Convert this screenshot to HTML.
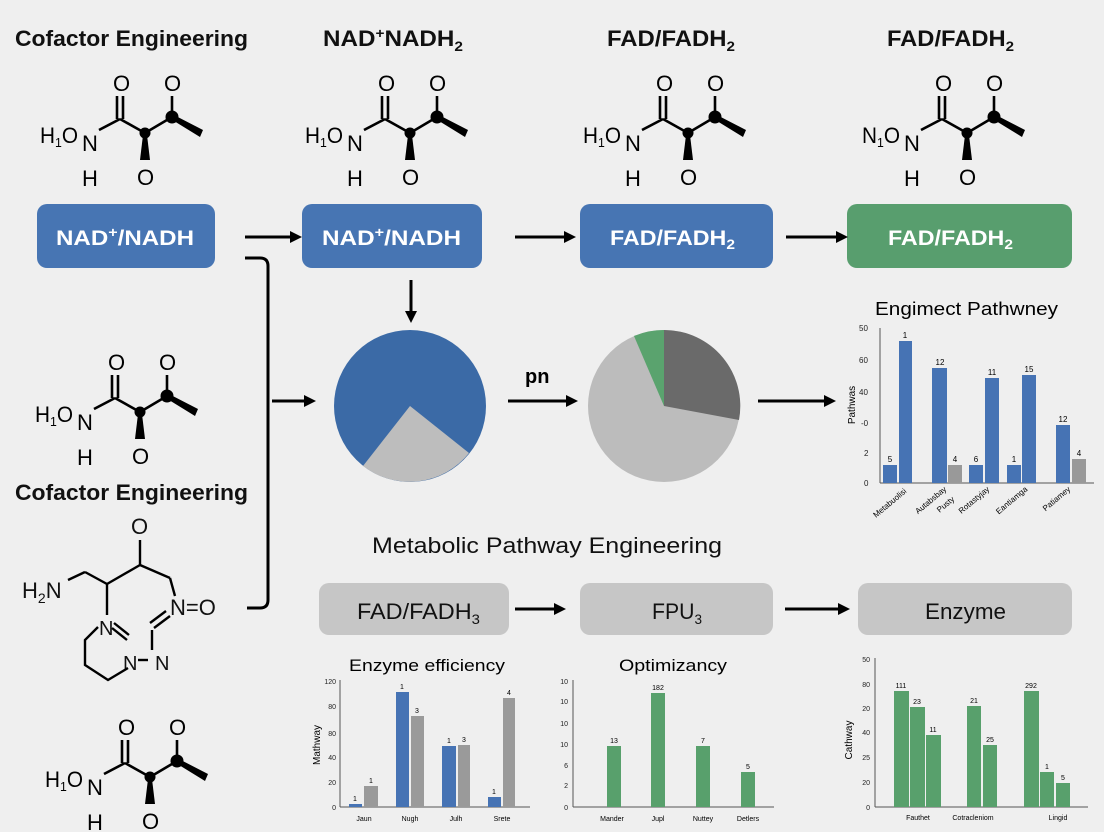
<!DOCTYPE html>
<html><head><meta charset="utf-8"><style>
html,body{margin:0;padding:0;background:#efefef;}
svg{display:block;font-family:"Liberation Sans",sans-serif;}
</style></head><body>
<svg width="1104" height="832" viewBox="0 0 1104 832" xmlns="http://www.w3.org/2000/svg">
<defs>
<marker id="ah" markerWidth="12" markerHeight="12" refX="9" refY="6" orient="auto" markerUnits="userSpaceOnUse"><path d="M0,0 L12,6 L0,12 Z" fill="#000"/></marker>
<g id="mol">
  <text x="40" y="143" font-size="22" textLength="38" lengthAdjust="spacingAndGlyphs">H<tspan font-size="13" dy="4">1</tspan><tspan dy="-4">O</tspan></text>
  <text x="82" y="151" font-size="22">N</text>
  <text x="82" y="186" font-size="22">H</text>
  <text x="113" y="91" font-size="22">O</text>
  <text x="164" y="91" font-size="22">O</text>
  <text x="137" y="185" font-size="22">O</text>
  <g stroke="#000" stroke-width="2.6" fill="none">
    <line x1="99" y1="130" x2="120" y2="119"/>
    <line x1="120" y1="119" x2="145" y2="133"/>
    <line x1="145" y1="133" x2="172" y2="117"/>
    <line x1="117" y1="119" x2="117" y2="96"/>
    <line x1="123" y1="119" x2="123" y2="96"/>
    <line x1="172" y1="117" x2="172" y2="96"/>
  </g>
  <polygon points="170,113 174,121 200,137 203,130" fill="#000"/>
  <polygon points="143,135 147,135 150,160 140,160" fill="#000"/>
  <circle cx="145" cy="133" r="5.5"/>
  <circle cx="172" cy="117" r="6.5"/>
</g>
</defs>
<rect width="1104" height="832" fill="#efefef"/>

<g font-weight="bold" font-size="22" fill="#111">
<text x="15" y="46" textLength="233" lengthAdjust="spacingAndGlyphs">Cofactor Engineering</text>
<text x="323" y="46" textLength="140" lengthAdjust="spacingAndGlyphs">NAD<tspan font-size="14" dy="-8">+</tspan><tspan dy="8">NADH</tspan><tspan font-size="14" dy="5">2</tspan></text>
<text x="607" y="46" textLength="128" lengthAdjust="spacingAndGlyphs">FAD/FADH<tspan font-size="14" dy="5">2</tspan></text>
<text x="887" y="46" textLength="127" lengthAdjust="spacingAndGlyphs">FAD/FADH<tspan font-size="14" dy="5">2</tspan></text>
<text x="15" y="500" textLength="233" lengthAdjust="spacingAndGlyphs">Cofactor Engineering</text>
</g>
<text x="372" y="553" font-size="22" fill="#111" textLength="350" lengthAdjust="spacingAndGlyphs">Metabolic Pathway Engineering</text>

<use href="#mol"/>
<use href="#mol" x="265"/>
<use href="#mol" x="543"/>
<g transform="translate(822,0)">
  <text x="40" y="143" font-size="22" textLength="38" lengthAdjust="spacingAndGlyphs">N<tspan font-size="13" dy="4">1</tspan><tspan dy="-4">O</tspan></text>
  <text x="82" y="151" font-size="22">N</text>
  <text x="82" y="186" font-size="22">H</text>
  <text x="113" y="91" font-size="22">O</text>
  <text x="164" y="91" font-size="22">O</text>
  <text x="137" y="185" font-size="22">O</text>
  <g stroke="#000" stroke-width="2.6" fill="none">
    <line x1="99" y1="130" x2="120" y2="119"/><line x1="120" y1="119" x2="145" y2="133"/>
    <line x1="145" y1="133" x2="172" y2="117"/><line x1="117" y1="119" x2="117" y2="96"/>
    <line x1="123" y1="119" x2="123" y2="96"/><line x1="172" y1="117" x2="172" y2="96"/>
  </g>
  <polygon points="170,113 174,121 200,137 203,130"/><polygon points="143,135 147,135 150,160 140,160"/>
  <circle cx="145" cy="133" r="5.5"/><circle cx="172" cy="117" r="6.5"/>
</g>
<use href="#mol" x="-5" y="279"/>
<use href="#mol" x="5" y="644"/>

<g font-size="22" fill="#111">
<text x="22" y="598">H<tspan font-size="14" dy="5">2</tspan><tspan dy="-5">N</tspan></text>
<text x="131" y="534">O</text>
<text x="170" y="615">N=O</text>
<text x="99" y="635" font-size="20">N</text>
<text x="123" y="670" font-size="20">N</text>
<text x="155" y="670" font-size="20">N</text>
</g>
<g stroke="#000" stroke-width="2.4" fill="none">
<line x1="68" y1="580" x2="85" y2="572"/><line x1="85" y1="572" x2="107" y2="584"/>
<line x1="107" y1="584" x2="140" y2="565"/><line x1="140" y1="565" x2="140" y2="540"/>
<line x1="140" y1="565" x2="170" y2="578"/><line x1="170" y1="578" x2="175" y2="596"/>
<line x1="107" y1="584" x2="107" y2="615"/>
<polyline points="98,627 85,640 85,665 108,680 128,668"/>
<line x1="112" y1="628" x2="127" y2="640"/><line x1="114" y1="623" x2="129" y2="635"/>
<line x1="170" y1="616" x2="154" y2="628"/><line x1="166" y1="611" x2="150" y2="623"/>
<line x1="152" y1="630" x2="152" y2="650"/>
<line x1="138" y1="660" x2="148" y2="660"/>
</g>

<rect x="37" y="204" width="178" height="64" rx="10" fill="#4775b3"/>
<rect x="302" y="204" width="180" height="64" rx="10" fill="#4775b3"/>
<rect x="580" y="204" width="193" height="64" rx="10" fill="#4775b3"/>
<rect x="847" y="204" width="225" height="64" rx="10" fill="#589e6e"/>
<g fill="#fff" font-weight="bold" font-size="21">
<text x="56" y="245" textLength="138" lengthAdjust="spacingAndGlyphs">NAD<tspan font-size="14" dy="-8">+</tspan><tspan dy="8">/NADH</tspan></text>
<text x="322" y="245" textLength="139" lengthAdjust="spacingAndGlyphs">NAD<tspan font-size="14" dy="-8">+</tspan><tspan dy="8">/NADH</tspan></text>
<text x="610" y="245" textLength="125" lengthAdjust="spacingAndGlyphs">FAD/FADH<tspan font-size="14" dy="4">2</tspan></text>
<text x="888" y="245" textLength="125" lengthAdjust="spacingAndGlyphs">FAD/FADH<tspan font-size="14" dy="4">2</tspan></text>
</g>
<rect x="319" y="583" width="190" height="52" rx="10" fill="#c6c6c6"/>
<rect x="580" y="583" width="193" height="52" rx="10" fill="#c6c6c6"/>
<rect x="858" y="583" width="214" height="52" rx="10" fill="#c6c6c6"/>
<g fill="#111" font-size="22">
<text x="357" y="619" textLength="123" lengthAdjust="spacingAndGlyphs">FAD/FADH<tspan font-size="14" dy="5">3</tspan></text>
<text x="652" y="619" textLength="50" lengthAdjust="spacingAndGlyphs">FPU<tspan font-size="14" dy="5">3</tspan></text>
<text x="925" y="619" textLength="81" lengthAdjust="spacingAndGlyphs">Enzyme</text>
</g>

<g stroke="#000" stroke-width="3" fill="none" marker-end="url(#ah)">
<line x1="245" y1="237" x2="299" y2="237"/>
<line x1="515" y1="237" x2="573" y2="237"/>
<line x1="786" y1="237" x2="845" y2="237"/>
<line x1="411" y1="280" x2="411" y2="320"/>
<line x1="272" y1="401" x2="313" y2="401"/>
<line x1="508" y1="401" x2="575" y2="401"/>
<line x1="758" y1="401" x2="833" y2="401"/>
<line x1="515" y1="609" x2="563" y2="609"/>
<line x1="785" y1="609" x2="847" y2="609"/>
</g>
<path d="M245,258 L260,258 Q268,258 268,266 L268,600 Q268,608 260,608 L247,608" stroke="#000" stroke-width="3" fill="none"/>
<text x="525" y="383" font-size="20" font-weight="bold">pn</text>

<circle cx="410" cy="406" r="76" fill="#3b6aa6"/>
<path d="M410,406 L363,466 A76,76 0 0 0 469,453 Z" fill="#bdbdbd"/>
<circle cx="664" cy="406" r="76" fill="#bcbcbc"/>
<path d="M664,406 L664,330 A76,76 0 0 1 739,420 Z" fill="#6a6a6a"/>
<path d="M664,406 L634,336 A76,76 0 0 1 664,330 Z" fill="#5aa36e"/>

<text x="875" y="315" font-size="18" textLength="183" lengthAdjust="spacingAndGlyphs">Engimect Pathwney</text>
<g font-size="8" fill="#222">
<text x="859" y="331">50</text><text x="859" y="363">60</text><text x="859" y="395">40</text><text x="861" y="426">-0</text><text x="864" y="456">2</text><text x="864" y="486">0</text>
</g>
<text transform="translate(855,405) rotate(-90)" font-size="10" text-anchor="middle">Pathwas</text>
<line x1="880" y1="328" x2="880" y2="483" stroke="#555"/>
<line x1="880" y1="483" x2="1094" y2="483" stroke="#555"/>
<g fill="#4673b4">
<rect x="883" y="465" width="14" height="18"/><rect x="899" y="341" width="13" height="142"/>
<rect x="932" y="368" width="15" height="115"/><rect x="969" y="465" width="14" height="18"/>
<rect x="985" y="378" width="14" height="105"/><rect x="1007" y="465" width="14" height="18"/>
<rect x="1022" y="375" width="14" height="108"/><rect x="1056" y="425" width="14" height="58"/>
</g>
<g fill="#999"><rect x="948" y="465" width="14" height="18"/><rect x="1072" y="459" width="14" height="24"/></g>
<g font-size="8" text-anchor="middle">
<text x="890" y="462">5</text><text x="905" y="338">1</text><text x="940" y="365">12</text><text x="955" y="462">4</text>
<text x="976" y="462">6</text><text x="992" y="375">11</text><text x="1014" y="462">1</text><text x="1029" y="372">15</text>
<text x="1063" y="422">12</text><text x="1079" y="456">4</text>
</g>
<g font-size="8" text-anchor="end">
<text transform="translate(907,492) rotate(-40)">Metabuolisi</text>
<text transform="translate(947,490) rotate(-40)">Autabsbay</text>
<text transform="translate(955,500) rotate(-40)">Pusty</text>
<text transform="translate(990,490) rotate(-40)">Rotastyjay</text>
<text transform="translate(1028,490) rotate(-40)">Eantiamga</text>
<text transform="translate(1071,490) rotate(-40)">Patiamey</text>
</g>

<text x="427" y="671" font-size="17" text-anchor="middle" textLength="156" lengthAdjust="spacingAndGlyphs">Enzyme efficiency</text>
<g font-size="7" fill="#222" text-anchor="end">
<text x="336" y="684">120</text><text x="336" y="709">80</text><text x="336" y="736">80</text><text x="336" y="760">40</text><text x="336" y="785">20</text><text x="336" y="810">0</text>
</g>
<text transform="translate(320,745) rotate(-90)" font-size="10" text-anchor="middle">Mathway</text>
<line x1="340" y1="680" x2="340" y2="807" stroke="#555"/><line x1="340" y1="807" x2="530" y2="807" stroke="#555"/>
<g fill="#4673b4"><rect x="349" y="804" width="13" height="3"/><rect x="396" y="692" width="13" height="115"/><rect x="442" y="746" width="14" height="61"/><rect x="488" y="797" width="13" height="10"/></g>
<g fill="#9a9a9a"><rect x="364" y="786" width="14" height="21"/><rect x="411" y="716" width="13" height="91"/><rect x="458" y="745" width="12" height="62"/><rect x="503" y="698" width="12" height="109"/></g>
<g font-size="7" text-anchor="middle">
<text x="355" y="801">1</text><text x="371" y="783">1</text><text x="402" y="689">1</text><text x="417" y="713">3</text>
<text x="449" y="743">1</text><text x="464" y="742">3</text><text x="494" y="794">1</text><text x="509" y="695">4</text>
<text x="364" y="821">Jaun</text><text x="410" y="821">Nugh</text><text x="456" y="821">Julh</text><text x="502" y="821">Srete</text>
</g>

<text x="673" y="671" font-size="17" text-anchor="middle" textLength="108" lengthAdjust="spacingAndGlyphs">Optimizancy</text>
<g font-size="7" fill="#222" text-anchor="end">
<text x="568" y="684">10</text><text x="568" y="704">10</text><text x="568" y="726">10</text><text x="568" y="747">10</text><text x="568" y="768">6</text><text x="568" y="788">2</text><text x="568" y="810">0</text>
</g>
<line x1="573" y1="680" x2="573" y2="807" stroke="#555"/><line x1="573" y1="807" x2="774" y2="807" stroke="#555"/>
<g fill="#58a06c"><rect x="607" y="746" width="14" height="61"/><rect x="651" y="693" width="14" height="114"/><rect x="696" y="746" width="14" height="61"/><rect x="741" y="772" width="14" height="35"/></g>
<g font-size="7" text-anchor="middle">
<text x="614" y="743">13</text><text x="658" y="690">182</text><text x="703" y="743">7</text><text x="748" y="769">5</text>
<text x="612" y="821">Mander</text><text x="658" y="821">Jupl</text><text x="703" y="821">Nuttey</text><text x="748" y="821">Detlers</text>
</g>

<g font-size="7" fill="#222" text-anchor="end">
<text x="870" y="662">50</text><text x="870" y="687">80</text><text x="870" y="711">20</text><text x="870" y="735">40</text><text x="870" y="760">25</text><text x="870" y="785">20</text><text x="870" y="810">0</text>
</g>
<text transform="translate(852,740) rotate(-90)" font-size="10" text-anchor="middle">Cathway</text>
<line x1="875" y1="658" x2="875" y2="807" stroke="#555"/><line x1="875" y1="807" x2="1088" y2="807" stroke="#555"/>
<g fill="#58a06c">
<rect x="894" y="691" width="15" height="116"/><rect x="910" y="707" width="15" height="100"/><rect x="926" y="735" width="15" height="72"/>
<rect x="967" y="706" width="14" height="101"/><rect x="983" y="745" width="14" height="62"/>
<rect x="1024" y="691" width="15" height="116"/><rect x="1040" y="772" width="14" height="35"/><rect x="1056" y="783" width="14" height="24"/>
</g>
<g font-size="7" text-anchor="middle">
<text x="901" y="688">111</text><text x="917" y="704">23</text><text x="933" y="732">11</text><text x="974" y="703">21</text><text x="990" y="742">25</text>
<text x="1031" y="688">292</text><text x="1047" y="769">1</text><text x="1063" y="780">5</text>
<text x="918" y="820">Fauthet</text><text x="973" y="820">Cotracleniom</text><text x="1058" y="820">Lingid</text>
</g>
</svg>
</body></html>
